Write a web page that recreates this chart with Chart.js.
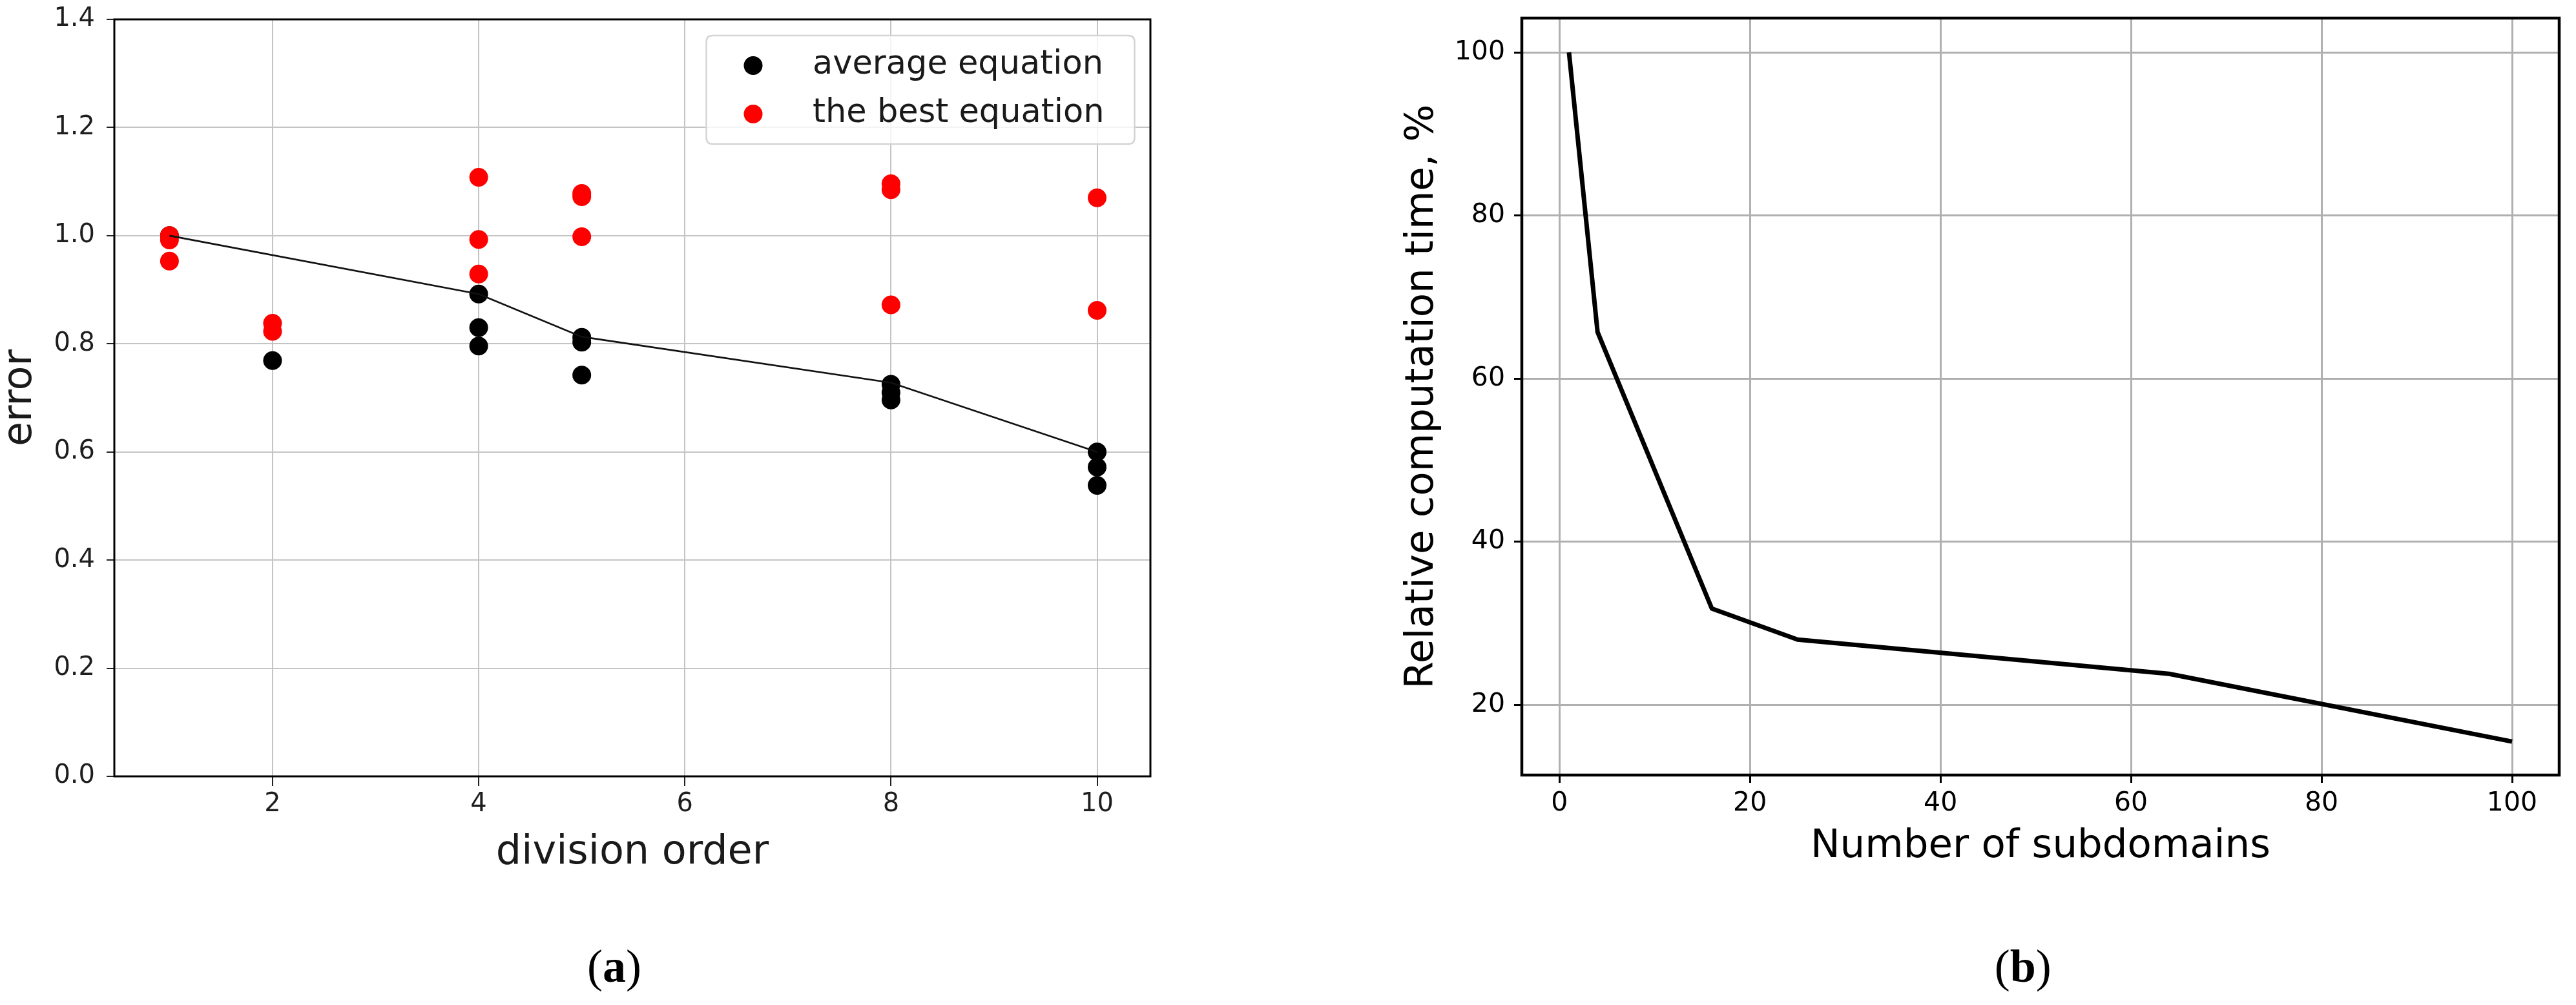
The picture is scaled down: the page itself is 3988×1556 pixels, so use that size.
<!DOCTYPE html>
<html>
<head>
<meta charset="utf-8">
<script src="https://cdn.jsdelivr.net/npm/chart.js@4/dist/chart.umd.min.js"></script>
<style>
html,body{margin:0;padding:0;background:#fff;overflow:hidden;width:3988px;height:1556px}
#chartA{position:absolute;left:0;top:0}
#chartB{position:absolute;left:2000px;top:0}
</style>
</head>
<body>
<canvas id="chartA" width="2000" height="1556"></canvas>
<canvas id="chartB" width="1988" height="1556"></canvas>
<script>
// ---------- data: panel (a) ----------
const avgEqX  = [1, 2, 4, 4, 4, 5, 5, 5, 8, 8, 8, 10, 10, 10];
const avgEqY  = [1.0, 0.769, 0.892, 0.830, 0.796, 0.812, 0.803, 0.742, 0.725, 0.710, 0.696, 0.600, 0.572, 0.538];
const bestEqX = [1, 1, 1, 2, 2, 4, 4, 4, 5, 5, 5, 8, 8, 8, 10, 10];
const bestEqY = [1.0, 0.992, 0.953, 0.838, 0.823, 1.108, 0.993, 0.929, 1.078, 1.072, 0.998, 1.096, 1.085, 0.872, 1.070, 0.862];
const trendX  = [1, 4, 5, 8, 10];
const trendY  = [1.0, 0.892, 0.813, 0.728, 0.600];
const xTicksA = [2, 4, 6, 8, 10];
const yTicksA = [0, 0.2, 0.4, 0.6, 0.8, 1.0, 1.2, 1.4];

// ---------- data: panel (b) ----------
const subdomains = [1, 4, 16, 25, 64, 100];
const relTime    = [100, 65.7, 31.8, 28.0, 23.8, 15.5];
const xTicksB = [0, 20, 40, 60, 80, 100];
const yTicksB = [20, 40, 60, 80, 100];

const FONT = 'DejaVu Sans';
const pts = (xs, ys) => xs.map((x, i) => ({x: x, y: ys[i]}));

// frame (all four spines)
const framePlugin = {
  id: 'frame',
  afterDraw(chart, args, opts) {
    const {ctx, chartArea: a} = chart;
    ctx.save();
    ctx.strokeStyle = '#000';
    ctx.lineWidth = opts.width || 3;
    ctx.strokeRect(a.left, a.top, a.right - a.left, a.bottom - a.top);
    ctx.restore();
  }
};

// matplotlib-like legend box inside plot area
const boxLegendPlugin = {
  id: 'boxLegend',
  afterDraw(chart, args, opts) {
    if (!opts || !opts.display) return;
    const ctx = chart.ctx;
    const {x, y, w, h, r} = opts.box;
    ctx.save();
    ctx.beginPath();
    ctx.moveTo(x + r, y);
    ctx.lineTo(x + w - r, y); ctx.quadraticCurveTo(x + w, y, x + w, y + r);
    ctx.lineTo(x + w, y + h - r); ctx.quadraticCurveTo(x + w, y + h, x + w - r, y + h);
    ctx.lineTo(x + r, y + h); ctx.quadraticCurveTo(x, y + h, x, y + h - r);
    ctx.lineTo(x, y + r); ctx.quadraticCurveTo(x, y, x + r, y);
    ctx.closePath();
    ctx.fillStyle = 'rgba(255,255,255,0.8)';
    ctx.fill();
    ctx.strokeStyle = '#d4d4d4';
    ctx.lineWidth = 2.5;
    ctx.stroke();
    const items = chart.data.datasets.filter(d => d.inLegend);
    items.sort((a, b) => a.legendIndex - b.legendIndex);
    ctx.font = opts.fontSize + 'px "' + FONT + '"';
    ctx.textBaseline = 'alphabetic';
    ctx.textAlign = 'left';
    items.forEach((d, i) => {
      const cy = opts.markerY + i * opts.rowGap;
      ctx.beginPath();
      ctx.fillStyle = d.backgroundColor;
      ctx.arc(opts.markerX, cy, opts.markerR, 0, Math.PI * 2);
      ctx.fill();
      ctx.fillStyle = '#1a1a1a';
      ctx.fillText(d.label, opts.textX, opts.textBaseline + i * opts.rowGap);
    });
    ctx.restore();
  }
};

// "(a)" / "(b)" caption with bold letter
const captionPlugin = {
  id: 'caption',
  afterDraw(chart, args, opts) {
    if (!opts || !opts.letter) return;
    const ctx = chart.ctx;
    ctx.save();
    const reg = opts.size + 'px "Liberation Serif"';
    const bold = 'bold ' + opts.size + 'px "Liberation Serif"';
    ctx.font = reg; const wL = ctx.measureText('(').width; const wR = ctx.measureText(')').width;
    ctx.font = bold; const wM = ctx.measureText(opts.letter).width;
    let x = opts.x - (wL + wM + wR) / 2;
    ctx.fillStyle = '#000';
    ctx.textBaseline = 'alphabetic';
    ctx.textAlign = 'left';
    ctx.font = reg; ctx.fillText('(', x, opts.baseline); x += wL;
    ctx.font = bold; ctx.fillText(opts.letter, x, opts.baseline); x += wM;
    ctx.font = reg; ctx.fillText(')', x, opts.baseline);
    ctx.restore();
  }
};

Chart.register(framePlugin, boxLegendPlugin, captionPlugin);

// ---------- panel (a) ----------
new Chart(document.getElementById('chartA'), {
  type: 'scatter',
  data: {
    datasets: [
      {
        label: 'trend', type: 'scatter', showLine: true,
        data: pts(trendX, trendY),
        borderColor: '#111', borderWidth: 2.6, pointRadius: 0, order: 0,
        backgroundColor: '#111'
      },
      {
        label: 'the best equation', inLegend: true, legendIndex: 1,
        data: pts(bestEqX, bestEqY),
        backgroundColor: '#ff0000', borderWidth: 0, pointRadius: 14.5, order: 1
      },
      {
        label: 'average equation', inLegend: true, legendIndex: 0,
        data: pts(avgEqX, avgEqY),
        backgroundColor: '#000000', borderWidth: 0, pointRadius: 14.5, order: 2
      }
    ]
  },
  options: {
    responsive: false, animation: false, devicePixelRatio: 1,
    layout: {padding: {left: 0, top: 30, right: 219, bottom: 0}},
    plugins: {
      legend: {display: false}, tooltip: {enabled: false},
      frame: {width: 3},
      boxLegend: {
        display: true,
        box: {x: 1093.5, y: 55, w: 663, h: 168, r: 10},
        markerX: 1166, markerY: 101.5, markerR: 14.5, rowGap: 75,
        textX: 1258, textBaseline: 113.5, fontSize: 51
      },
      caption: {letter: 'a', x: 951, baseline: 1520, size: 72}
    },
    scales: {
      x: {
        type: 'linear', min: 0.465, max: 10.517,
        afterBuildTicks: s => { s.ticks = xTicksA.map(v => ({value: v})); },
        afterFit: s => { s.height = 354; s.paddingLeft = 0; s.paddingRight = 0; s.paddingTop = 0; s.paddingBottom = 0; },
        border: {display: false},
        grid: {color: '#c4c4c4', lineWidth: 2, tickColor: '#222', tickWidth: 2, tickLength: 15},
        ticks: {font: {family: FONT, size: 40}, color: '#1e1e1e', padding: 5, maxRotation: 0, autoSkip: false,
                callback: v => String(v)},
        title: {display: true, text: 'division order', color: '#1a1a1a',
                font: {family: FONT, size: 62, lineHeight: 1}, padding: {top: 0, bottom: 204}}
      },
      y: {
        type: 'linear', min: 0, max: 1.4,
        afterBuildTicks: s => { s.ticks = yTicksA.map(v => ({value: v})); },
        afterFit: s => { s.width = 177; s.paddingTop = 0; s.paddingBottom = 0; s.paddingLeft = 0; s.paddingRight = 0; },
        border: {display: false},
        grid: {color: '#c4c4c4', lineWidth: 2, tickColor: '#222', tickWidth: 2, tickLength: 12},
        ticks: {font: {family: FONT, size: 40}, color: '#1e1e1e', padding: 18, autoSkip: false,
                callback: v => Number(v).toFixed(1)},
        title: {display: true, text: 'error', color: '#1a1a1a',
                font: {family: FONT, size: 62, lineHeight: 1}, padding: {top: 1, bottom: 0}}
      }
    }
  }
});

// ---------- panel (b) ----------
new Chart(document.getElementById('chartB'), {
  type: 'scatter',
  data: {
    datasets: [{
      label: 'Relative computation time',
      data: pts(subdomains, relTime),
      showLine: true, borderColor: '#000', borderWidth: 7, pointRadius: 0,
      borderJoinStyle: 'round', backgroundColor: '#000'
    }]
  },
  options: {
    responsive: false, animation: false, devicePixelRatio: 1,
    layout: {padding: {left: 0, top: 28, right: 26, bottom: 0}},
    plugins: {
      legend: {display: false}, tooltip: {enabled: false},
      frame: {width: 4.5},
      boxLegend: {display: false},
      caption: {letter: 'b', x: 1131.7, baseline: 1520, size: 72}
    },
    scales: {
      x: {
        type: 'linear', min: -3.95, max: 104.95,
        afterBuildTicks: s => { s.ticks = xTicksB.map(v => ({value: v})); },
        afterFit: s => { s.height = 356; s.paddingLeft = 0; s.paddingRight = 0; s.paddingTop = 0; s.paddingBottom = 0; },
        border: {display: false},
        grid: {color: '#b0b0b0', lineWidth: 3, tickColor: '#000', tickWidth: 3, tickLength: 12},
        ticks: {font: {family: FONT, size: 41}, color: '#000', padding: 8, maxRotation: 0, autoSkip: false,
                callback: v => String(v)},
        title: {display: true, text: 'Number of subdomains', color: '#000',
                font: {family: FONT, size: 61, lineHeight: 1}, padding: {top: 0, bottom: 214}}
      },
      y: {
        type: 'linear', min: 11.39, max: 104.2,
        afterBuildTicks: s => { s.ticks = yTicksB.map(v => ({value: v})); },
        afterFit: s => { s.width = 356; s.paddingTop = 0; s.paddingBottom = 0; s.paddingLeft = 0; s.paddingRight = 0; },
        border: {display: false},
        grid: {color: '#b0b0b0', lineWidth: 3, tickColor: '#000', tickWidth: 3, tickLength: 12},
        ticks: {font: {family: FONT, size: 41}, color: '#000', padding: 14, autoSkip: false,
                callback: v => String(v)},
        title: {display: true, text: 'Relative computation time, %', color: '#000',
                font: {family: FONT, size: 61, lineHeight: 1}, padding: {top: 172, bottom: 0}}
      }
    }
  }
});
</script>
</body>
</html>
